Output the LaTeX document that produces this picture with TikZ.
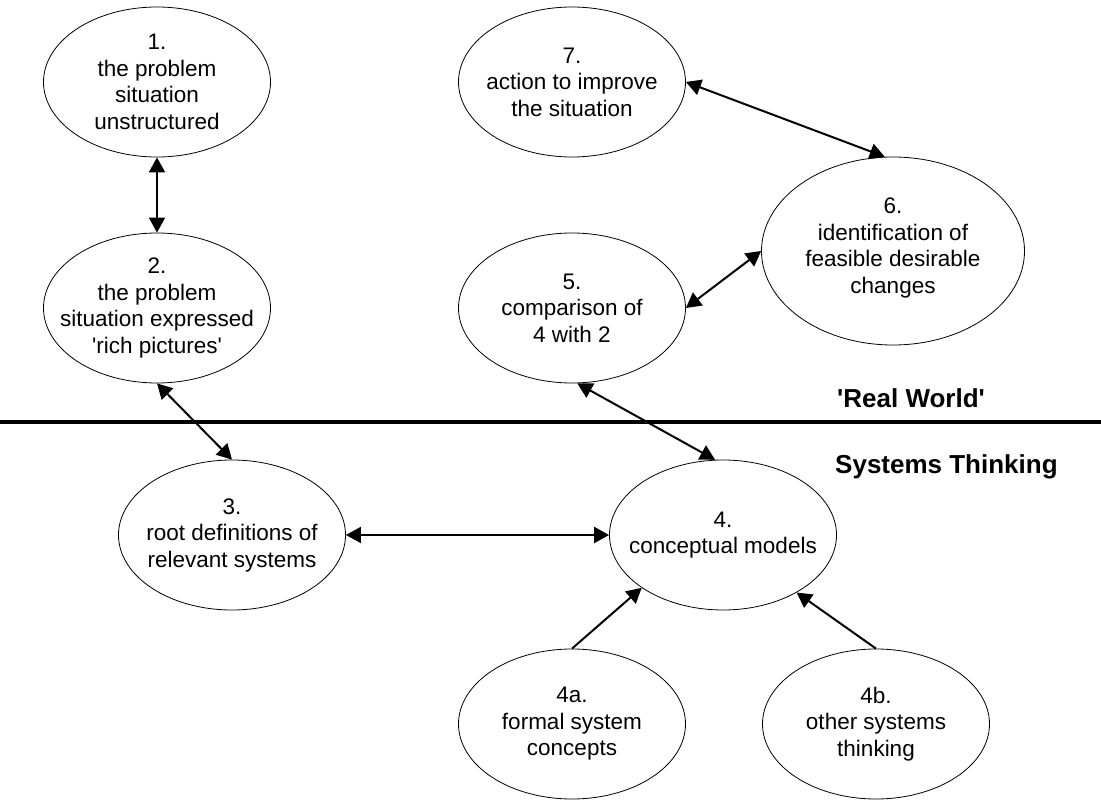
\documentclass[tikz,border=0pt]{standalone}
\usepackage{fontspec}
\setmainfont{Liberation Sans}
\usetikzlibrary{shapes.geometric,arrows.meta}

\begin{document}
\begin{tikzpicture}[x=1pt,y=-1pt,
  stage/.style={ellipse,draw,line width=0.8pt,inner sep=0pt,
                minimum width=227pt,minimum height=150pt},
  bigstage/.style={stage,minimum width=263pt,minimum height=188pt},
  stagetext/.style={align=center,inner sep=0pt,
                    font=\fontsize{22.5pt}{26.5pt}\selectfont},
  region/.style={font=\fontsize{26pt}{30pt}\selectfont\bfseries,
                 anchor=base west,inner sep=0pt},
  both/.style={line width=2pt,
               {Triangle[length=15pt,width=16pt]}-{Triangle[length=15pt,width=16pt]}},
  feed/.style={line width=2pt,-{Triangle[length=15pt,width=16pt]}}]

\useasboundingbox (0,0) rectangle (1101,802);

% stages of the methodology
\node[stage] (n1) at (157,82) {};
\node[stagetext] (t1) at (n1) {1.\\the problem\\situation\\unstructured};

\node[stage] (n2) at (157,308) {};
\node[stagetext] (t2) at (n2) {2.\\the problem\\situation expressed\\\textquotesingle rich pictures\textquotesingle};

\node[stage] (n3) at (232,535) {};
\node[stagetext] (t3) at (n3) {3.\\root definitions of\\relevant systems};

\node[stage] (n4) at (723,535) {};
\node[stagetext] (t4) at (n4) {4.\\conceptual models};

\node[stage] (n4a) at (572,724) {};
\node[stagetext] (t4a) at (n4a) {4a.\\formal system\\concepts};

\node[stage] (n4b) at (876,724) {};
\node[stagetext] (t4b) at (n4b) {4b.\\other systems\\thinking};

\node[stage] (n5) at (572,308) {};
\node[stagetext] (t5) at (n5) {5.\\comparison of\\4 with 2};

\node[bigstage] (n6) at (893,251) {};
\node[stagetext] (t6) at ([yshift=3pt]n6.center) {6.\\identification of\\feasible desirable\\changes};

\node[stage] (n7) at (572,82) {};
\node[stagetext] (t7) at (n7) {7.\\action to improve\\the situation};

% boundary between the two worlds
\draw[line width=4pt] (0,422) -- (1101,422);
\node[region] (rw) at (837,407) {\textquotesingle Real World\textquotesingle};
\node[region] (st) at (835,473) {Systems Thinking};

% connections
\draw[both] (n1.south) -- (n2.north);
\draw[both] (n2.south) -- (n3.north);
\draw[both] (n3.east) -- (n4.west);
\draw[both] (n5.-86) -- (n4.96);
\draw[both] (n5.east) -- (n6.west);
\draw[both] (n7.east) -- (n6.95);
\draw[feed] (n4a.north) -- (n4.213);
\draw[feed] (n4b.north) -- (n4.322);
\end{tikzpicture}
\end{document}
